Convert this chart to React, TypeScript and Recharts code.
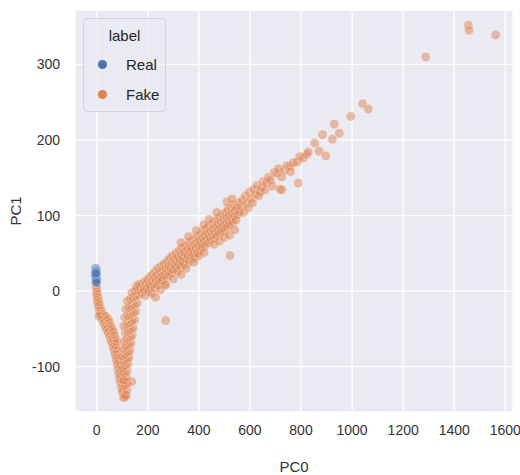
import {
  ScatterChart,
  Scatter,
  XAxis,
  YAxis,
  CartesianGrid,
} from "recharts";

// PCA projection: [PC0, PC1]
const realPoints: [number, number][] = [
  [-4, 30], [-2, 27], [-5, 25], [-3, 23], [-1, 21], [-4, 19],
  [-2, 17], [0, 15], [-3, 13], [-1, 11], [-5, 22], [-2, 24],
];

const fakeLeftArm: [number, number][] = [
  [-3, 6], [1, 3], [-1, -1], [3, -4], [0, -7], [5, -9], [2, -12], [8, -14],
  [4, -16], [11, -18], [7, -21], [15, -23], [10, -26], [19, -27], [14, -30],
  [24, -31], [18, -34], [29, -35], [9, -33], [35, -33],
  [22, -38], [34, -39], [45, -37], [28, -42], [40, -44], [50, -41], [33, -47],
  [45, -48], [55, -46], [39, -51], [50, -52], [60, -50], [44, -55], [56, -57], [66, -54],
  [50, -60], [61, -61], [70, -59], [55, -65], [66, -66], [75, -64], [60, -69],
  [71, -70], [79, -68], [64, -74], [75, -75], [68, -78], [80, -79],
  [72, -83], [82, -84], [75, -88], [86, -89], [78, -92], [88, -94], [80, -97], [90, -99],
  [84, -103], [93, -105], [86, -109], [95, -111], [89, -115], [98, -117], [92, -121],
  [100, -124], [96, -128], [104, -130], [100, -134], [108, -137], [112, -140], [105, -141],
];

const fakeRightArm: [number, number][] = [
  [115, -138], [118, -131], [137, -120], [110, -125], [120, -122], [106, -118],
  [116, -114], [108, -108], [119, -106], [103, -102], [113, -99], [122, -96],
  [106, -93], [117, -90], [126, -88], [100, -86], [110, -84], [121, -81], [130, -79],
  [104, -76], [114, -73], [125, -71], [134, -69], [108, -66], [119, -63], [130, -61],
  [139, -59], [112, -55], [123, -53], [134, -51], [143, -49], [106, -46], [117, -44],
  [128, -42], [138, -40], [148, -38], [110, -35], [121, -33], [132, -31], [143, -29],
  [153, -27], [114, -24], [125, -22], [136, -20], [147, -18], [158, -16], [120, -13],
  [131, -11], [142, -9], [153, -7], [164, -5], [138, -2], [149, 0], [160, 2], [171, 4],
  [155, 6], [166, 9], [178, 10], [185, 3], [190, 13], [176, -2], [270, -39],
];

const fakeTrunk: [number, number][] = [
  [186, 2], [190, -6], [193, 10], [197, 4], [199, 15], [203, -1], [205, 9],
  [208, 19], [211, 6], [214, 13], [216, -3], [219, 22], [222, 10], [224, 17],
  [227, 4], [229, 26], [233, 14], [235, 21], [238, 8], [240, 30], [243, 17],
  [246, 11], [248, 25], [251, 19], [253, 33], [256, 14], [259, 27], [261, 21],
  [264, 36], [266, 9], [269, 24], [271, 30], [274, 18], [276, 40], [279, 27],
  [282, 33], [284, 21], [287, 44], [290, 30], [292, 24], [295, 37], [297, 47],
  [300, 28], [303, 35], [305, 42], [308, 31], [310, 50], [313, 38], [316, 26],
  [318, 45], [321, 35], [323, 54], [326, 41], [329, 32], [331, 48], [334, 57],
  [336, 38], [339, 44], [341, 52], [344, 35], [347, 49], [349, 60], [352, 42],
  [355, 55], [357, 47], [360, 64], [362, 39], [365, 52], [368, 58], [370, 46],
  [373, 67], [375, 55], [378, 49], [381, 62], [383, 44], [386, 70], [389, 57],
  [391, 63], [394, 51], [397, 72], [399, 60], [402, 66], [405, 54], [407, 77],
  [410, 63], [413, 70], [415, 58], [418, 80], [421, 67], [423, 73], [426, 61],
  [429, 83], [431, 70], [434, 76], [437, 64], [439, 86], [442, 72], [445, 79],
  [447, 67], [450, 89], [453, 75], [455, 82], [458, 70], [461, 92], [463, 78],
  [466, 85], [469, 73], [471, 95], [474, 81], [477, 88], [479, 76], [482, 98],
  [485, 84], [487, 91], [490, 79], [493, 101], [495, 87], [498, 94], [501, 80],
  [503, 104], [506, 90], [509, 97], [511, 85], [514, 108], [517, 93], [519, 100],
  [522, 88], [525, 111], [527, 96], [530, 103], [533, 91], [536, 114], [538, 99],
  [541, 106], [545, 94], [548, 110], [552, 101], [556, 117], [560, 105], [565, 112],
  [460, 62], [480, 66], [500, 71], [520, 74], [540, 81], [440, 95], [470, 104],
  [510, 118], [530, 122], [400, 47], [420, 51], [380, 38], [350, 30], [330, 22],
  [300, 16], [270, 8], [250, 2], [230, -8], [420, 88], [390, 80], [360, 72],
  [330, 64], [522, 47],
];

const fakeTail: [number, number][] = [
  [570, 120], [575, 104], [582, 126], [587, 116], [593, 110], [598, 131],
  [603, 122], [610, 117], [615, 135], [622, 128], [628, 140], [634, 126],
  [640, 131], [646, 137], [652, 145], [659, 134], [665, 143], [672, 150],
  [680, 147], [688, 139], [695, 157], [705, 156], [712, 162], [717, 135],
  [724, 151], [724, 134], [735, 160], [745, 166], [757, 165], [759, 158],
  [770, 170], [785, 171], [789, 143], [795, 178], [809, 176], [822, 181],
  [828, 184], [854, 196], [871, 185], [884, 207], [897, 179], [923, 201],
  [930, 221], [950, 209], [995, 231], [1041, 248], [1063, 241], [1288, 310],
  [1455, 352], [1458, 345], [1562, 339],
];

const xTicks = [0, 200, 400, 600, 800, 1000, 1200, 1400, 1600];
const yTicks = [-100, 0, 100, 200, 300];

const BLUE = "#4c72b0";
const ORANGE = "#dd8452";
const FONT = "'Liberation Sans', Arial, sans-serif";

const toRows = (pts: [number, number][]) => pts.map(([x, y]) => ({ x, y }));
const realData = toRows(realPoints);
const fakeData = toRows([...fakeLeftArm, ...fakeRightArm, ...fakeTrunk, ...fakeTail]);

const dot = (color: string) => (props: any) =>
  (
    <circle
      cx={props.cx}
      cy={props.cy}
      r={4.7}
      fill={color}
      fillOpacity={0.5}
      stroke="#ffffff"
      strokeOpacity={0.5}
      strokeWidth={0.6}
    />
  );

function LegendBox() {
  const row = (name: string, color: string) => (
    <div style={{ display: "flex", alignItems: "center", height: 30 }}>
      <span
        style={{
          width: 9,
          height: 9,
          borderRadius: "50%",
          background: color,
          marginLeft: 14,
          marginRight: 19,
        }}
      />
      <span>{name}</span>
    </div>
  );
  return (
    <div
      style={{
        position: "absolute",
        left: 83,
        top: 18,
        width: 81,
        height: 92,
        border: "1px solid #d3d3db",
        borderRadius: 4,
        background: "rgba(234,234,242,0.8)",
        fontFamily: FONT,
        fontSize: 15,
        color: "#262626",
      }}
    >
      <div style={{ textAlign: "center", height: 30, lineHeight: "34px" }}>label</div>
      {row("Real", BLUE)}
      {row("Fake", ORANGE)}
    </div>
  );
}

export default function App() {
  return (
    <div style={{ position: "absolute", left: 0, top: 0, width: 520, height: 475, background: "#fff" }}>
      <ScatterChart
        width={520}
        height={475}
        margin={{ top: 10, right: 7, bottom: 0, left: 0 }}
        style={{ fontFamily: FONT }}
      >
        <CartesianGrid fill="#eaeaf2" stroke="#ffffff" strokeWidth={1.3} />
        <XAxis
          type="number"
          dataKey="x"
          domain={[-85, 1630]}
          ticks={xTicks}
          axisLine={false}
          tickLine={false}
          tickMargin={7}
          height={63}
          tick={{ fontSize: 14, fill: "#333" }}
          label={{ value: "PC0", position: "insideBottom", offset: 3, fontSize: 15, fill: "#333" }}
        />
        <YAxis
          type="number"
          dataKey="y"
          domain={[-160, 372]}
          ticks={yTicks}
          axisLine={false}
          tickLine={false}
          tickMargin={9}
          width={75}
          tick={{ fontSize: 14, fill: "#333" }}
          label={{ value: "PC1", angle: -90, position: "center", dx: -22, fontSize: 15, fill: "#333" }}
        />
        <Scatter name="Fake" data={fakeData} shape={dot(ORANGE)} isAnimationActive={false} />
        <Scatter name="Real" data={realData} shape={dot(BLUE)} isAnimationActive={false} />
      </ScatterChart>
      <LegendBox />
    </div>
  );
}
